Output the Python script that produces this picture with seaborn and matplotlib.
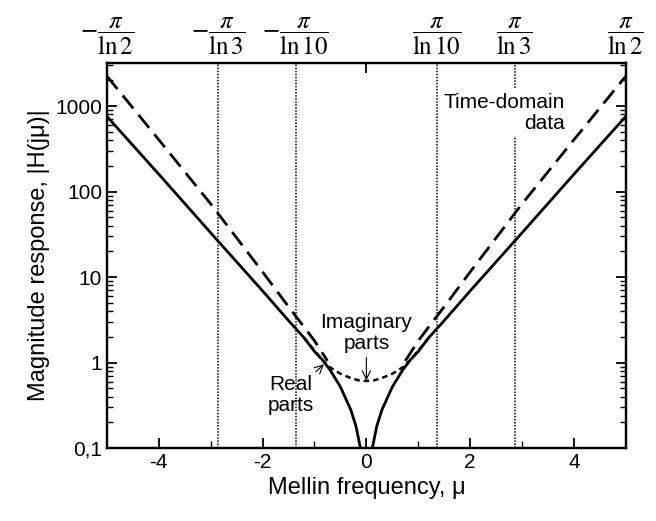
import numpy as np
import pandas as pd
import seaborn as sns
import matplotlib
matplotlib.use("Agg")
import matplotlib.pyplot as plt
from matplotlib.ticker import FixedLocator, NullFormatter

# values (log scale y)
mu_real = [-5, -4, -3, -2, -1.5, -1.2, -1.0, -0.85, -0.7, -0.5, -0.3, -0.2, -0.1, 0,
           0.1, 0.2, 0.3, 0.5, 0.7, 0.85, 1.0, 1.2, 1.5, 2, 3, 4, 5]
h_real = [760, 160, 33, 6.9, 3.1, 1.95, 1.35, 1.08, 0.82, 0.52, 0.28, 0.18, 0.09, 0.02,
          0.09, 0.18, 0.28, 0.52, 0.82, 1.08, 1.35, 1.95, 3.1, 6.9, 33, 160, 760]

mu_dash_l = [-5, -4, -3, -2, -1.5, -1.36, -1.2, -1.0, -0.85, -0.75]
h_dash_l = [2250, 405, 72, 11.5, 4.5, 3.5, 2.6, 1.8, 1.3, 1.05]
mu_dash_r = [0.75, 0.85, 1.0, 1.2, 1.36, 1.5, 2, 3, 4, 5]
h_dash_r = [1.05, 1.3, 1.8, 2.6, 3.5, 4.5, 11.5, 72, 405, 2250]

mu_imag = [-1.2, -1.0, -0.85, -0.7, -0.5, -0.3, -0.15, 0, 0.15, 0.3, 0.5, 0.7, 0.85, 1.0, 1.2]
h_imag = [1.95, 1.38, 1.08, 0.88, 0.74, 0.66, 0.62, 0.61, 0.62, 0.66, 0.74, 0.88, 1.08, 1.38, 1.95]

vlines = [-np.pi / np.log(3), -np.pi / np.log(10), np.pi / np.log(10), np.pi / np.log(3)]
top_pos = [-5, -np.pi / np.log(3), -np.pi / np.log(10), np.pi / np.log(10), np.pi / np.log(3), 5]
top_labels = [r'$-\dfrac{\pi}{\ln2}$', r'$-\dfrac{\pi}{\ln3}$', r'$-\dfrac{\pi}{\ln10}$',
              r'$\dfrac{\pi}{\ln10}$', r'$\dfrac{\pi}{\ln3}$', r'$\dfrac{\pi}{\ln2}$']
yticks = [0.1, 1, 10, 100, 1000]
ylabels = ['0,1', '1', '10', '100', '1000']

sns.set_style("ticks")
plt.rcParams['font.family'] = ['Liberation Sans', 'DejaVu Sans']
plt.rcParams['mathtext.fontset'] = 'stix'
plt.rcParams['axes.unicode_minus'] = False
for k in ['text.color', 'axes.labelcolor', 'xtick.color', 'ytick.color', 'axes.edgecolor']:
    plt.rcParams[k] = 'black'

fig = plt.figure(figsize=(6.56, 5.21), dpi=100)
ax = fig.add_axes([0.163, 0.140, 0.791, 0.739])

sns.lineplot(x=mu_real, y=h_real, ax=ax, color='k', lw=2.0, sort=False, estimator=None)
sns.lineplot(x=mu_dash_l, y=h_dash_l, ax=ax, color='k', lw=2.0, sort=False, estimator=None)
ax.lines[-1].set_dashes([6, 3])
sns.lineplot(x=mu_dash_r, y=h_dash_r, ax=ax, color='k', lw=2.0, sort=False, estimator=None)
ax.lines[-1].set_dashes([6, 3])
sns.lineplot(x=mu_imag, y=h_imag, ax=ax, color='k', lw=1.8, sort=False, estimator=None)
ax.lines[-1].set_dashes([2.2, 1.6])

for i, v in enumerate(vlines):
    if i == 3:
        # broken where the text sits
        ax.plot([v, v], [0.1, 450], color='k', lw=1.1, ls=(0, (1, 1)))
        ax.plot([v, v], [1620, 3200], color='k', lw=1.1, ls=(0, (1, 1)))
    else:
        ax.axvline(v, color='k', lw=1.1, ls=(0, (1, 1)))

ax.set_yscale('log')
ax.set_xlim(-5, 5)
ax.set_ylim(0.1, 3200)
ax.yaxis.set_major_locator(FixedLocator(yticks))
ax.set_yticklabels(ylabels)
ax.yaxis.set_minor_formatter(NullFormatter())
ax.set_xticks([-4, -2, 0, 2, 4])
ax.set_xticks([-3, -1, 1, 3], minor=True)
ax.tick_params(which='major', direction='in', length=7, width=1.3, labelsize=15, right=True, top=False)
ax.tick_params(which='minor', direction='in', length=4, width=1.0, right=True, top=False)
ax.tick_params(axis='x', which='minor', length=5)
for s in ax.spines.values():
    s.set_linewidth(1.6)
    s.set_visible(True)

ax2 = ax.twiny()
ax2.set_xlim(-5, 5)
ax2.set_xticks(top_pos)
ax2.set_xticklabels(top_labels, fontsize=18)
ax2.set_xticks([0], minor=True)
ax2.tick_params(which='major', length=0, pad=4)
ax2.tick_params(which='minor', direction='in', length=7, width=1.3)
for s in ax2.spines.values():
    s.set_linewidth(1.6)

ax.set_xlabel('Mellin frequency, μ', fontsize=17, labelpad=4)
ax.set_ylabel('Magnitude response, |H(jμ)|', fontsize=17, labelpad=4)

ax.text(3.83, 830, 'Time-domain\ndata', fontsize=15, ha='right', va='center',
        linespacing=1.15)
ax.annotate('Imaginary\nparts', xy=(0.0, 0.62), xytext=(0.0, 1.3), fontsize=15,
            ha='center', va='bottom', linespacing=1.1,
            arrowprops=dict(arrowstyle='->', color='k', lw=0.8, shrinkA=1, shrinkB=0))
ax.annotate('Real\nparts', xy=(-0.8, 0.98), xytext=(-1.45, 0.42), fontsize=15,
            ha='center', va='center', linespacing=1.1,
            arrowprops=dict(arrowstyle='->', color='k', lw=0.8, shrinkA=14, shrinkB=1))

fig.savefig('out.png', dpi=100)
